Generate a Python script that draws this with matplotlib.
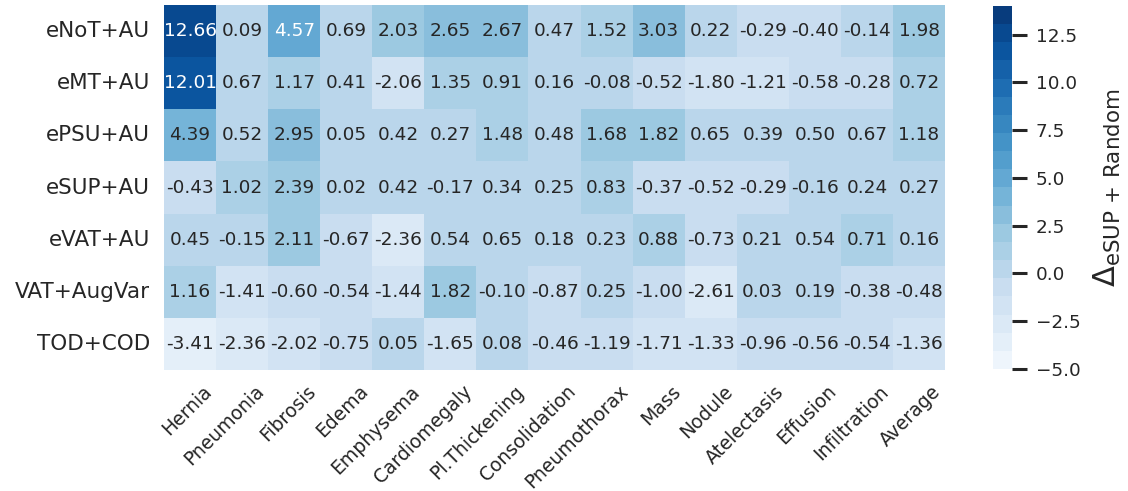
import numpy as np
import pandas as pd
import seaborn as sns
import matplotlib
matplotlib.use('Agg')
import matplotlib.pyplot as plt
import matplotlib.transforms as mtransforms

methods = ['eNoT+AU', 'eMT+AU', 'ePSU+AU', 'eSUP+AU', 'eVAT+AU', 'VAT+AugVar', 'TOD+COD']
diseases = ['Hernia', 'Pneumonia', 'Fibrosis', 'Edema', 'Emphysema', 'Cardiomegaly',
            'Pl.Thickening', 'Consolidation', 'Pneumothorax', 'Mass', 'Nodule',
            'Atelectasis', 'Effusion', 'Infiltration', 'Average']

enot_au = [12.66, 0.09, 4.57, 0.69, 2.03, 2.65, 2.67, 0.47, 1.52, 3.03, 0.22, -0.29, -0.40, -0.14, 1.98]
emt_au = [12.01, 0.67, 1.17, 0.41, -2.06, 1.35, 0.91, 0.16, -0.08, -0.52, -1.80, -1.21, -0.58, -0.28, 0.72]
epsu_au = [4.39, 0.52, 2.95, 0.05, 0.42, 0.27, 1.48, 0.48, 1.68, 1.82, 0.65, 0.39, 0.50, 0.67, 1.18]
esup_au = [-0.43, 1.02, 2.39, 0.02, 0.42, -0.17, 0.34, 0.25, 0.83, -0.37, -0.52, -0.29, -0.16, 0.24, 0.27]
evat_au = [0.45, -0.15, 2.11, -0.67, -2.36, 0.54, 0.65, 0.18, 0.23, 0.88, -0.73, 0.21, 0.54, 0.71, 0.16]
vat_augvar = [1.16, -1.41, -0.60, -0.54, -1.44, 1.82, -0.10, -0.87, 0.25, -1.00, -2.61, 0.03, 0.19, -0.38, -0.48]
tod_cod = [-3.41, -2.36, -2.02, -0.75, 0.05, -1.65, 0.08, -0.46, -1.19, -1.71, -1.33, -0.96, -0.56, -0.54, -1.36]

cbar_ticks = [-5.0, -2.5, 0.0, 2.5, 5.0, 7.5, 10.0, 12.5]

df = pd.DataFrame([enot_au, emt_au, epsu_au, esup_au, evat_au, vat_augvar, tod_cod],
                  index=methods, columns=diseases)

sns.set_theme(style='white')
plt.rcParams['font.family'] = ['DejaVu Sans']
plt.rcParams['mathtext.fontset'] = 'dejavusans'

fig = plt.figure(figsize=(11.28, 4.91), dpi=100)
ax = fig.add_axes([0.1454, 0.2464, 0.6924, 0.7434])
cax = fig.add_axes([0.8803, 0.2485, 0.0168, 0.7393])

# 20 discrete shades of blue between -5 and 14
cmap = sns.color_palette('Blues', 20)
sns.heatmap(df, ax=ax, cbar_ax=cax, cmap=cmap, vmin=-5, vmax=14,
            annot=True, fmt='.2f', annot_kws={'size': 13.3})

ax.set_yticklabels(methods, rotation=0, fontsize=15.5, color='#262626')
ax.set_xticklabels(diseases, rotation=45, ha='right', rotation_mode='anchor',
                   fontsize=13.5, color='#262626')
ax.tick_params(axis='y', length=0, pad=10)
ax.tick_params(axis='x', length=0, pad=8.5)

# nudge the slanted disease names a bit to the right
shift = mtransforms.ScaledTranslation(0.12, 0, fig.dpi_scale_trans)
for lbl in ax.get_xticklabels():
    lbl.set_transform(lbl.get_transform() + shift)

cax.tick_params(axis='y', length=11, width=2.2, labelsize=13.2, colors='#262626', pad=6)
cax.set_yticks(cbar_ticks)
cax.set_ylabel(r'$\Delta_{\mathrm{eSUP\,+\,Random}}$', fontsize=22, labelpad=8, color='#262626')

fig.savefig('out.png', dpi=100)
